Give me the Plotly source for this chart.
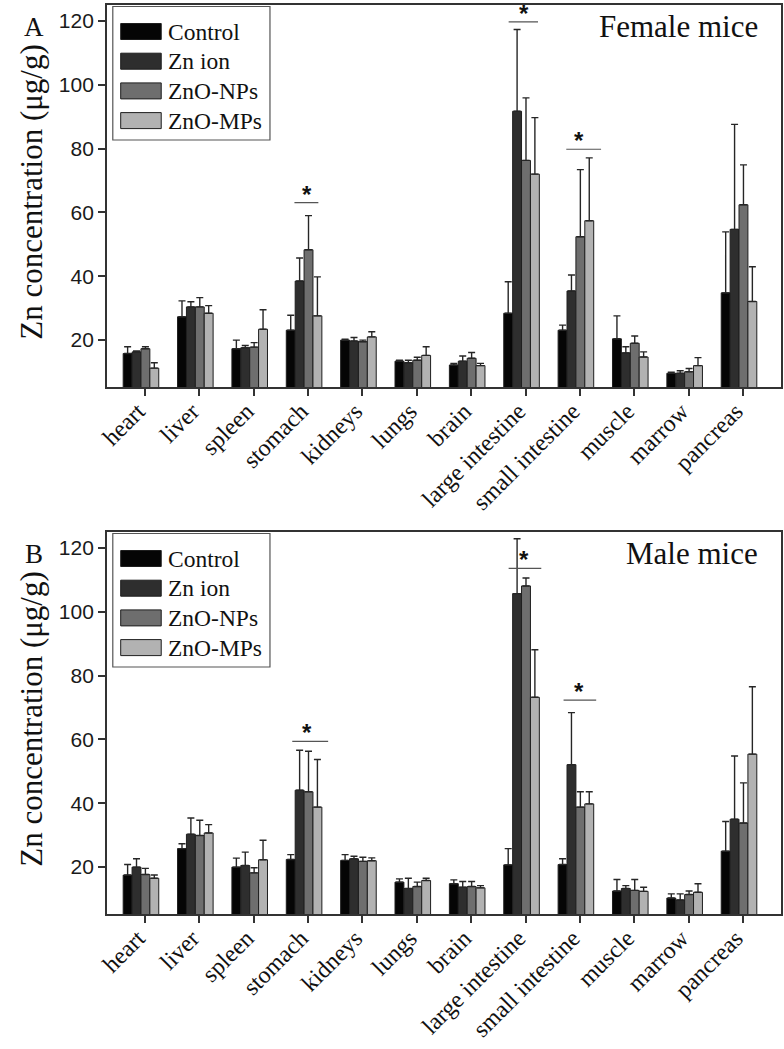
import plotly.graph_objects as go

# ---------------- data ----------------
categories = ["heart", "liver", "spleen", "stomach", "kidneys", "lungs", "brain",
              "large intestine", "small intestine", "muscle", "marrow", "pancreas"]
series_names = ["Control", "Zn ion", "ZnO-NPs", "ZnO-MPs"]
series_colors = ["#050505", "#2e2e2e", "#6e6e6e", "#b2b2b2"]

female_control = [15.8, 27.3, 17.3, 23.1, 20.0, 13.4, 12.2, 28.4, 23.1, 20.4, 9.6, 34.8]
female_control_err = [2.1, 5.0, 2.7, 4.7, 0.3, 0.3, 0.5, 9.9, 1.6, 7.2, 0.3, 19.1]
female_zn = [16.3, 30.4, 17.6, 38.5, 19.7, 12.9, 13.4, 91.7, 35.4, 16.0, 9.6, 54.7]
female_zn_err = [0.3, 1.6, 0.7, 7.2, 1.1, 0.8, 1.6, 25.6, 5.0, 1.9, 0.8, 32.9]
female_nps = [17.3, 30.4, 17.8, 48.3, 19.5, 13.7, 14.3, 76.3, 52.4, 19.0, 10.1, 62.4]
female_nps_err = [0.6, 2.9, 1.4, 10.7, 0.5, 0.9, 1.8, 19.6, 21.0, 2.3, 1.0, 12.5]
female_mps = [11.2, 28.4, 23.4, 27.6, 21.0, 15.2, 12.0, 72.0, 57.4, 14.7, 12.0, 32.1]
female_mps_err = [1.7, 2.4, 6.1, 12.2, 1.6, 2.7, 0.7, 17.7, 19.7, 1.6, 2.5, 10.9]

male_control = [17.5, 25.8, 20.0, 22.4, 22.1, 15.3, 14.8, 20.7, 20.8, 12.5, 10.3, 25.0]
male_control_err = [3.3, 1.5, 2.8, 1.5, 1.8, 1.0, 1.2, 5.1, 1.8, 3.6, 1.3, 9.3]
male_zn = [20.0, 30.3, 20.5, 44.1, 22.6, 13.3, 13.7, 105.7, 52.1, 13.3, 9.7, 35.0]
male_zn_err = [2.6, 5.1, 4.2, 12.5, 0.8, 3.2, 1.8, 17.2, 16.3, 0.9, 1.9, 19.8]
male_nps = [17.7, 29.9, 18.2, 43.6, 21.8, 13.9, 13.9, 108.1, 38.8, 12.7, 11.4, 33.8]
male_nps_err = [1.9, 4.8, 1.6, 12.7, 1.3, 1.4, 1.6, 2.5, 4.8, 3.4, 1.1, 12.6]
male_mps = [16.5, 30.7, 22.3, 38.8, 22.0, 15.8, 13.5, 73.2, 39.8, 12.4, 12.1, 55.4]
male_mps_err = [1.0, 2.6, 6.1, 14.9, 0.9, 0.7, 0.7, 14.9, 3.8, 1.3, 2.7, 21.1]

# significance markers: (category, line level, left extent, right extent)
female_sig = [("stomach", 63.1, -0.25, 0.19),
              ("large intestine", 119.7, -0.31, 0.23),
              ("small intestine", 79.8, -0.25, 0.39)]
male_sig = [("stomach", 59.4, -0.29, 0.37),
            ("large intestine", 113.6, -0.31, 0.29),
            ("small intestine", 72.3, -0.30, 0.30)]

y_ticks = [20, 40, 60, 80, 100, 120]
panel_titles = ["Female mice", "Male mice"]
panel_letters = ["A", "B"]
y_title = "Zn concentration (μg/g)"

# ---------------- figure ----------------
W, H = 784, 1049
fig = go.Figure()

panels = [
    ([female_control, female_zn, female_nps, female_mps],
     [female_control_err, female_zn_err, female_nps_err, female_mps_err], female_sig),
    ([male_control, male_zn, male_nps, male_mps],
     [male_control_err, male_zn_err, male_nps_err, male_mps_err], male_sig),
]

bar_w = 0.1636
group_left = -0.40

for p, (vals, errs, sig) in enumerate(panels):
    xa = "x" if p == 0 else "x2"
    ya = "y" if p == 0 else "y2"
    for k in range(4):
        fig.add_trace(go.Bar(
            x=categories, y=vals[k], name=series_names[k],
            xaxis=xa, yaxis=ya, width=bar_w, offset=group_left + k * bar_w,
            marker=dict(color=series_colors[k], line=dict(color="#1e1e1e", width=1)),
            error_y=dict(type="data", array=errs[k], arrayminus=[0] * len(errs[k]),
                         symmetric=False, color="#262626", thickness=1.4, width=3.5),
            showlegend=False,
        ))
    for cat, lvl, lft, rgt in sig:
        i = categories.index(cat)
        fig.add_shape(type="line", xref=xa, yref=ya, x0=i + lft, x1=i + rgt,
                      y0=lvl, y1=lvl, line=dict(color="#555555", width=1.2))
        fig.add_annotation(x=i - 0.02, y=lvl, xref=xa, yref=ya, text="<b>*</b>",
                           showarrow=False, yanchor="bottom", yshift=-7,
                           font=dict(family="Liberation Sans", size=24, color="#111"))

top_dom = [1 - 387 / H, 1 - 5 / H]
bot_dom = [1 - 914 / H, 1 - 532 / H]
x_dom = [99 / W, 781 / W]

axis_common = dict(showline=True, linecolor="#333333", linewidth=1.5, mirror=True,
                   ticks="outside", ticklen=7, tickwidth=1.5, tickcolor="#333333",
                   showgrid=False, zeroline=False)
xcommon = dict(axis_common, type="category", categoryorder="array",
               categoryarray=categories, range=[-0.7, 11.7], domain=x_dom,
               tickangle=-45, ticklabelshift=-7, ticklabelstandoff=-8,
               tickfont=dict(family="Liberation Serif", size=24, color="#111111"))
ycommon = dict(axis_common, range=[5.3, 125], tickvals=y_ticks,
               tickfont=dict(family="Liberation Sans", size=21, color="#1a1a1a"))

fig.update_layout(
    width=W, height=H, margin=dict(l=0, r=0, t=0, b=0),
    paper_bgcolor="white", plot_bgcolor="white",
    barmode="overlay", showlegend=False,
    xaxis=dict(xcommon, anchor="y"),
    yaxis=dict(ycommon, domain=top_dom, anchor="x"),
    xaxis2=dict(xcommon, anchor="y2"),
    yaxis2=dict(ycommon, domain=bot_dom, anchor="x2"),
)

for p in range(2):
    xr = "x domain" if p == 0 else "x2 domain"
    yr = "y domain" if p == 0 else "y2 domain"
    ph = 382.0
    fig.add_shape(type="rect", xref=xr, yref=yr, x0=6 / 682, x1=165 / 682,
                  y0=1 - 135 / ph, y1=1 - 1.5 / ph,
                  line=dict(color="#555555", width=1.2), fillcolor="white")
    for k, name in enumerate(series_names):
        cy = 26.5 + k * 29.7
        fig.add_shape(type="rect", xref=xr, yref=yr, x0=14 / 682, x1=55 / 682,
                      y0=1 - (cy + 8) / ph, y1=1 - (cy - 8) / ph,
                      line=dict(color="#1e1e1e", width=1), fillcolor=series_colors[k])
        fig.add_annotation(xref=xr, yref=yr, x=60 / 682, y=1 - cy / ph, text=name,
                           showarrow=False, xanchor="left", yanchor="middle",
                           font=dict(family="Liberation Serif", size=23.5, color="#111"))
    fig.add_annotation(xref=xr, yref=yr, x=661 / 682, y=1 - 21 / ph,
                       text=panel_titles[p], showarrow=False, xanchor="right",
                       yanchor="middle",
                       font=dict(family="Liberation Serif", size=31, color="#111"))
    dom = top_dom if p == 0 else bot_dom
    fig.add_annotation(xref="paper", yref="paper", x=25 / W, y=dom[1] - 22 / H,
                       text=panel_letters[p], showarrow=False,
                       xanchor="center", yanchor="middle",
                       font=dict(family="Liberation Serif", size=27, color="#111"))
    fig.add_annotation(xref="paper", yref="paper", x=22 / W,
                       y=(dom[0] + dom[1]) / 2 + 4 / H, text=y_title, textangle=-90,
                       showarrow=False, xanchor="center", yanchor="middle",
                       font=dict(family="Liberation Serif", size=31, color="#111"))

fig.write_html("out.html", config={"displayModeBar": False},
               post_script="document.body.style.margin='0';document.body.style.padding='0';")
